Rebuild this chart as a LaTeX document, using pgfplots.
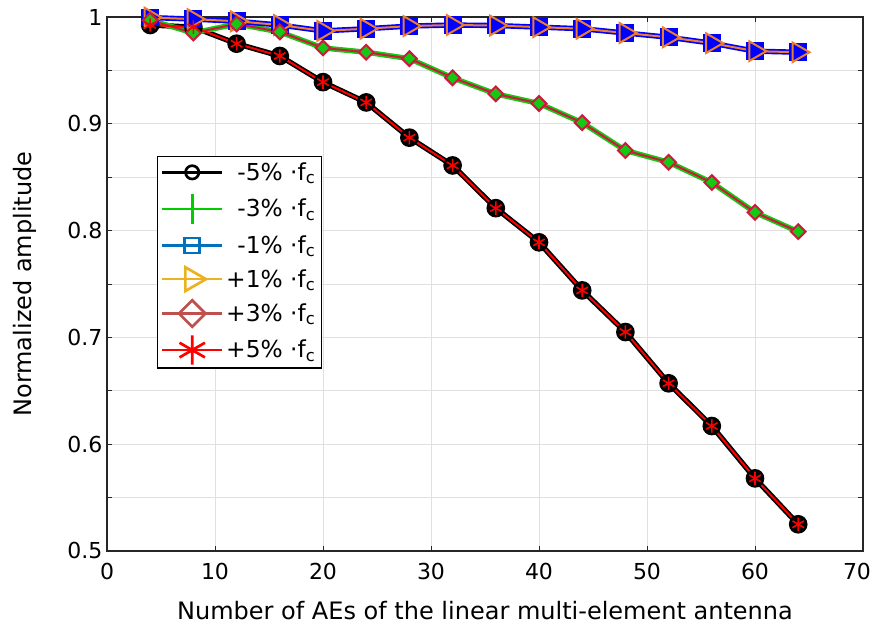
\documentclass[border=0pt]{standalone}
\usepackage{pgfplots}
\pgfplotsset{compat=1.18}
\usepackage{pgfplotstable}
\usepackage{fontspec}
\setmainfont{DejaVu Sans}

% line colours of the curves
\definecolor{cgreen}{RGB}{20,200,20}
\definecolor{cblue}{RGB}{0,0,255}
\definecolor{corange}{RGB}{237,125,49}
\definecolor{ccrimson}{RGB}{205,25,60}
% legend colours
\definecolor{lblue}{rgb}{0,0.447,0.741}
\definecolor{lyellow}{rgb}{0.929,0.694,0.125}
\definecolor{lrose}{RGB}{192,80,77}
\definecolor{lgreen}{RGB}{0,205,0}
\definecolor{axgray}{rgb}{0.15,0.15,0.15}

% normalized amplitude vs. number of antenna elements, per frequency offset
\pgfplotstableread{
N    f5     f3     f1
4    0.9925 0.997  0.9995
8    0.9905 0.985  0.998
12   0.975  0.9935 0.996
16   0.9635 0.986  0.9925
20   0.939  0.971  0.987
24   0.920  0.967  0.989
28   0.887  0.961  0.9915
32   0.861  0.943  0.9925
36   0.821  0.928  0.992
40   0.789  0.919  0.9905
44   0.744  0.901  0.989
48   0.705  0.875  0.985
52   0.657  0.864  0.981
56   0.617  0.845  0.9755
60   0.568  0.817  0.968
64   0.525  0.799  0.967
}\amp

\begin{document}
\begin{tikzpicture}
\begin{axis}[
  scale only axis,
  width=567pt, height=400.5pt,
  xmin=0, xmax=70, ymin=0.5, ymax=1,
  xtick={0,10,20,30,40,50,60,70},
  xticklabels={0,10,20,30,40,50,60,\hspace*{-9pt}70},
  ytick={0.5,0.6,0.7,0.8,0.9,1},
  yticklabels={0.5,0.6,0.7,0.8,0.9,1},
  minor ytick={0.55,0.65,0.75,0.85,0.95},
  grid=both,
  major grid style={draw=black!12, line width=0.6pt},
  minor grid style={draw=black!12, line width=0.6pt},
  axis line style={draw=axgray, line width=0.8pt},
  tick style={draw=axgray, line width=0.6pt},
  tick align=inside,
  major tick length=4pt, minor tick length=4pt,
  /pgf/number format/assume math mode=true,
  ticklabel style={font=\fontsize{16.5}{20}\selectfont, text=black},
  xticklabel style={yshift=-5.5pt},
  label style={font=\fontsize{18}{22}\selectfont},
  xlabel style={yshift=-9pt},
  ylabel shift=16pt,
  xlabel={Number of AEs of the linear multi-element antenna},
  ylabel={Normalized amplitude},
  clip=false,
  legend cell align=right,
  legend style={
    at={(rel axis cs:0.066,0.740)}, anchor=north west,
    draw=black, line width=1pt,
    font=\fontsize{17.5}{21}\selectfont,
    inner sep=2.5pt, row sep=6.5pt,
  },
  legend image code/.code={
    \draw[mark repeat=2, mark phase=2] plot coordinates {(0pt,0pt) (22.5pt,0pt) (45pt,0pt)};
  },
]

% legend entries
\addlegendimage{black, line width=2pt, mark=o, mark size=5pt, mark options={line width=2pt}}
\addlegendentry{-5\% ·f\textsubscript{c}}
\addlegendimage{lgreen, line width=2pt, mark=+, mark size=11.5pt, mark options={line width=2pt}}
\addlegendentry{-3\% ·f\textsubscript{c}}
\addlegendimage{lblue, line width=2pt, mark=square, mark size=5.6pt, mark options={line width=2pt}}
\addlegendentry{-1\% ·f\textsubscript{c}}
\addlegendimage{lyellow, line width=2pt, mark=triangle, mark size=10.3pt, mark options={rotate=-90, line width=2pt}}
\addlegendentry{+1\% ·f\textsubscript{c}}
\addlegendimage{lrose, line width=2pt, mark=square, mark size=7pt, mark options={rotate=45, line width=2pt}}
\addlegendentry{+3\% ·f\textsubscript{c}}
\addlegendimage{red, line width=2pt, mark=asterisk, mark size=11pt, mark options={line width=2pt}}
\addlegendentry{+5\% ·f\textsubscript{c}}

% curves
\addplot[forget plot, black, line width=4pt, mark=*, mark size=6.5pt,
  mark options={fill=black, line width=1pt}] table[x=N, y=f5] {\amp};
\addplot[forget plot, cgreen, line width=4pt, mark=+, mark size=5pt,
  mark options={line width=1.5pt}] table[x=N, y=f3] {\amp};
\addplot[forget plot, cblue, line width=4pt, mark=square*, mark size=6.2pt,
  mark options={fill=cblue, line width=1pt}] table[x=N, y=f1] {\amp};
\addplot[forget plot, corange, line width=1.5pt, mark=triangle, mark size=8.5pt,
  mark options={rotate=-90, line width=1.5pt}] table[x=N, y=f1] {\amp};
\addplot[forget plot, ccrimson, line width=1.5pt, mark=square*, mark size=3.9pt,
  mark options={rotate=45, fill=cgreen, line width=1.5pt}] table[x=N, y=f3] {\amp};
\addplot[forget plot, red, line width=1.5pt, mark=asterisk, mark size=5pt,
  mark options={line width=1.2pt}] table[x=N, y=f5] {\amp};
\end{axis}
\pgfresetboundingbox
\path ([xshift=-80.25pt,yshift=-58.5pt]current axis.south west)
  rectangle ([xshift=9pt,yshift=12.75pt]current axis.north east);
\end{tikzpicture}
\end{document}
